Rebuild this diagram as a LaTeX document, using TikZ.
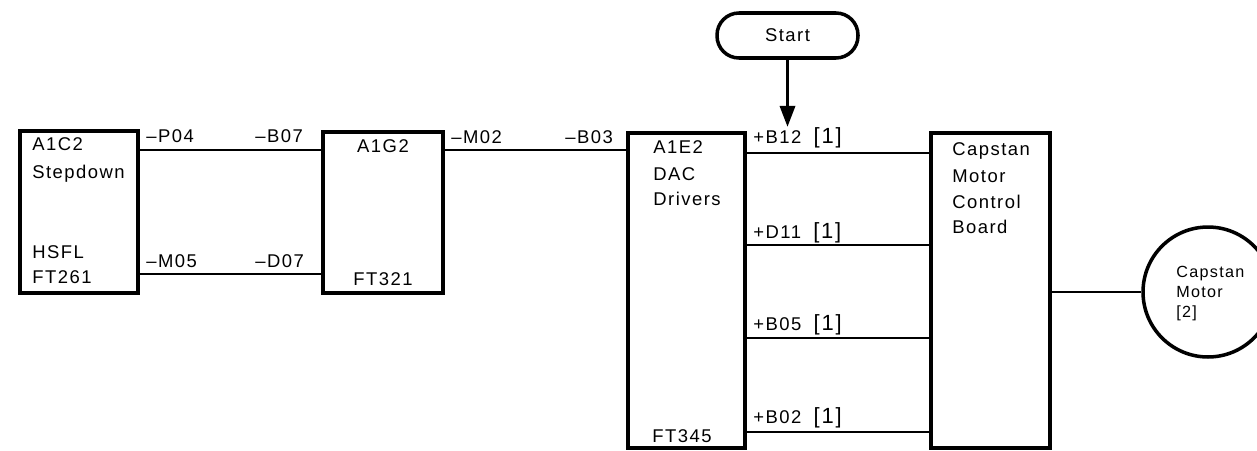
\documentclass[tikz,border=0pt]{standalone}
\usepackage{fontspec}
\setmainfont{Liberation Sans}[LetterSpace=8]
\usetikzlibrary{arrows.meta}

\newcommand{\refone}{\hspace{7pt}{\fontsize{12.5}{12}\selectfont[1]}}

\begin{document}
\begin{tikzpicture}[x=0.02cm,y=-0.02cm,
  box/.style={draw,line width=2pt,inner sep=0pt},
  wire/.style={line width=1.5pt},
  lbl/.style={anchor=base west,inner sep=0pt,font=\fontsize{10.5}{12}\selectfont},
  clbl/.style={lbl,anchor=base},
  slbl/.style={lbl,font=\fontsize{9.2}{11}\selectfont}]
\useasboundingbox (0,0) rectangle (1257,450);

% boxes
\node[box,minimum width=2.36cm,minimum height=3.24cm] (c2) at (79,212) {};
\node[box,minimum width=2.40cm,minimum height=3.22cm] (g2) at (383,212.5) {};
\node[box,minimum width=2.34cm,minimum height=6.30cm] (e2) at (686.5,290.5) {};
\node[box,minimum width=2.38cm,minimum height=6.30cm] (board) at (990.5,290.5) {};
\node[box,circle,minimum size=2.60cm] (motor) at (1208,292) {};
\node[box,rounded corners=0.44cm,minimum width=2.82cm,minimum height=0.90cm,
  font=\fontsize{10.5}{12}\selectfont] (start) at (787.5,35.5) {Start};

% box texts
\node[lbl] (c2a) at (32,150) {A1C2};
\node[lbl] (c2b) at (32,178) {Stepdown};
\node[lbl] (c2c) at (32,258) {HSFL};
\node[lbl] (c2d) at (32,283) {FT261};
\node[clbl] (g2a) at (383,152) {A1G2};
\node[clbl] (g2b) at (383,285) {FT321};
\node[lbl] (e2a) at (653,153) {A1E2};
\node[lbl] (e2b) at (653,180) {DAC};
\node[lbl] (e2c) at (653,205) {Drivers};
\node[lbl] (e2d) at (652,442) {FT345};
\node[lbl] (bda) at (952,155) {Capstan};
\node[lbl] (bdb) at (952,182) {Motor};
\node[lbl] (bdc) at (952,208) {Control};
\node[lbl] (bdd) at (952,233) {Board};
\node[slbl] (mta) at (1176,277) {Capstan};
\node[slbl] (mtb) at (1176,297) {Motor};
\node[slbl] (mtc) at (1176,317) {[2]};

% wires
\draw[wire] (c2.east |- 0,150) -- (g2.west |- 0,150);
\draw[wire] (c2.east |- 0,274) -- (g2.west |- 0,274);
\draw[wire] (g2.east |- 0,150) -- (e2.west |- 0,150);
\foreach \y in {153,245,338,432}
  \draw[wire] (e2.east |- 0,\y) -- (board.west |- 0,\y);
\draw[wire] (board.east |- motor.west) -- (motor.west);
\coordinate (hit) at (787.5,127);
\draw[line width=2pt,-{Triangle[length=12pt,width=8.5pt]}] (start.south) -- (hit);

% pin labels
\node[lbl] (p04) at (146,142) {--P04};
\node[lbl] (b07) at (255,142) {--B07};
\node[lbl] (m05) at (146,267) {--M05};
\node[lbl] (d07) at (255,267) {--D07};
\node[lbl] (m02) at (451,143) {--M02};
\node[lbl] (b03) at (565,143) {--B03};
\node[lbl] (b12) at (753,143) {+B12\refone};
\node[lbl] (d11) at (753,238) {+D11\refone};
\node[lbl] (b05) at (753,330) {+B05\refone};
\node[lbl] (b02) at (753,423) {+B02\refone};
\end{tikzpicture}
\end{document}
